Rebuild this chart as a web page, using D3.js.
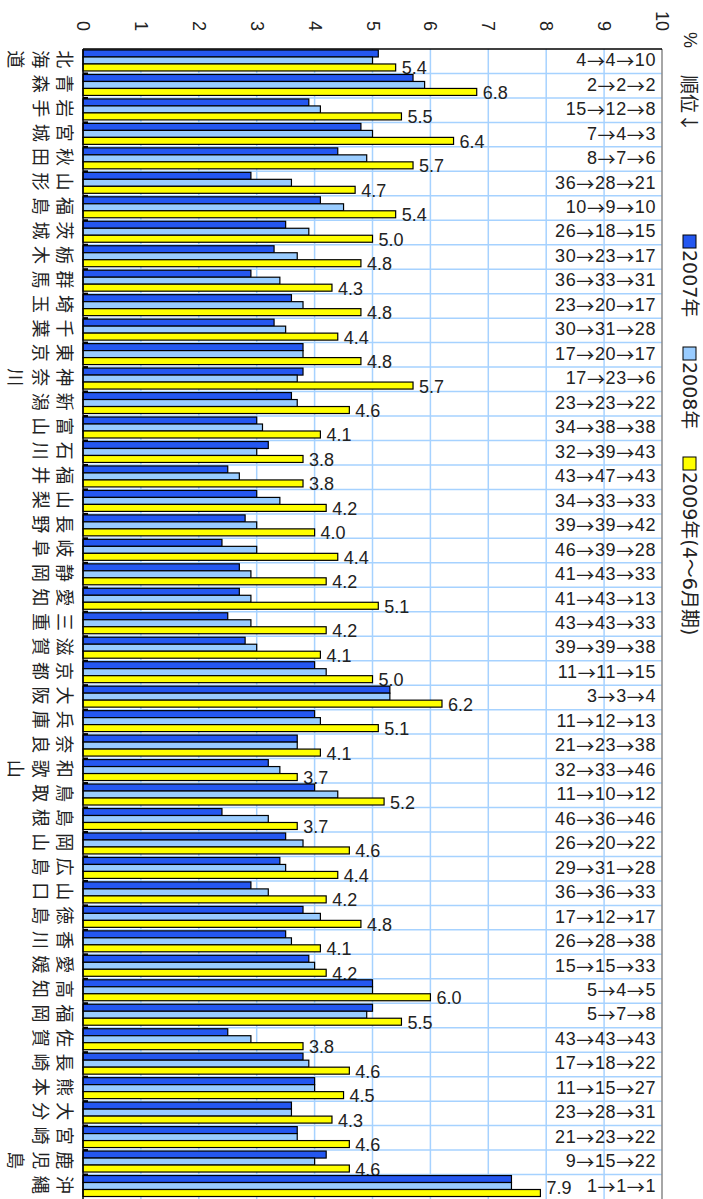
<!DOCTYPE html>
<html><head><meta charset="utf-8">
<script src="https://cdn.jsdelivr.net/npm/d3@7"></script>
<style>body{margin:0;background:#fff}svg{display:block}</style>
</head><body>
<svg id="c" width="703" height="1199"></svg>
<script>
const prefs = ["北海道","青森","岩手","宮城","秋田","山形","福島","茨城","栃木","群馬","埼玉","千葉","東京","神奈川","新潟","富山","石川","福井","山梨","長野","岐阜","静岡","愛知","三重","滋賀","京都","大阪","兵庫","奈良","和歌山","鳥取","島根","岡山","広島","山口","徳島","香川","愛媛","高知","福岡","佐賀","長崎","熊本","大分","宮崎","鹿児島","沖縄"];
const v2007 = [5.1,5.7,3.9,4.8,4.4,2.9,4.1,3.5,3.3,2.9,3.6,3.3,3.8,3.8,3.6,3.0,3.2,2.5,3.0,2.8,2.4,2.7,2.7,2.5,2.8,4.0,5.3,4.0,3.7,3.2,4.0,2.4,3.5,3.4,2.9,3.8,3.5,3.9,5.0,5.0,2.5,3.8,4.0,3.6,3.7,4.2,7.4];
const v2008 = [5.0,5.9,4.1,5.0,4.9,3.6,4.5,3.9,3.7,3.4,3.8,3.5,3.8,3.7,3.7,3.1,3.0,2.7,3.4,3.0,3.0,2.9,2.9,2.9,3.0,4.2,5.3,4.1,3.7,3.4,4.4,3.2,3.8,3.5,3.2,4.1,3.6,4.0,5.0,4.9,2.9,3.9,4.0,3.6,3.7,4.0,7.4];
const v2009 = [5.4,6.8,5.5,6.4,5.7,4.7,5.4,5.0,4.8,4.3,4.8,4.4,4.8,5.7,4.6,4.1,3.8,3.8,4.2,4.0,4.4,4.2,5.1,4.2,4.1,5.0,6.2,5.1,4.1,3.7,5.2,3.7,4.6,4.4,4.2,4.8,4.1,4.2,6.0,5.5,3.8,4.6,4.5,4.3,4.6,4.6,7.9];
const rank2007 = [4,2,15,7,8,36,10,26,30,36,23,30,17,17,23,34,32,43,34,39,46,41,41,43,39,11,3,11,21,32,11,46,26,29,36,17,26,15,5,5,43,17,11,23,21,9,1];
const rank2008 = [4,2,12,4,7,28,9,18,23,33,20,31,20,23,23,38,39,47,33,39,39,43,43,43,39,11,3,12,23,33,10,36,20,31,36,12,28,15,4,7,43,18,15,28,23,15,1];
const rank2009 = [10,2,8,3,6,21,10,15,17,31,17,28,17,6,22,38,43,43,33,42,28,33,13,33,38,15,4,13,38,46,12,46,22,28,33,17,38,33,5,8,43,22,27,31,22,22,1];
const seriesNames = ["2007年","2008年","2009年(4〜6月期)"];
const seriesColors = ["#2457f0","#99ccff","#ffff00"];
const ticks = [0,1,2,3,4,5,6,7,8,9,10];

(function(){
const svg = d3.select("#c");
const pL = 83, pR = 662, pT = 49, pB = 1199;
const x = d3.scaleLinear().domain([0,10]).range([pL,pR]);
const y = d3.scaleBand().domain(prefs).range([pT,pB]).padding(0);
const bw = y.bandwidth();
const inner = d3.scaleBand().domain([0,1,2]).range([1, bw-2.5]).padding(0);

const data = prefs.map((p,i)=>({p, vals:[v2007[i],v2008[i],v2009[i]], r:[rank2007[i],rank2008[i],rank2009[i]]}));

const grid = svg.append("g");
grid.selectAll("line.v").data(ticks.slice(1,10)).join("line")
  .attr("x1",d=>x(d)).attr("x2",d=>x(d)).attr("y1",pT).attr("y2",pB)
  .attr("stroke","#a6d2ff").attr("stroke-width",1.5);
grid.selectAll("line.h").data(prefs.slice(1)).join("line")
  .attr("x1",pL).attr("x2",pR).attr("y1",d=>y(d)).attr("y2",d=>y(d))
  .attr("stroke","#a6d2ff").attr("stroke-width",1.5);

const g = svg.append("g").selectAll("g").data(data).join("g")
  .attr("transform",d=>`translate(0,${y(d.p)})`);
g.selectAll("rect").data(d=>d.vals.map((v,k)=>({v,k}))).join("rect")
  .attr("x",x(0)).attr("y",d=>inner(d.k)).attr("width",d=>x(d.v)-x(0)).attr("height",inner.bandwidth())
  .attr("fill",d=>seriesColors[d.k]).attr("stroke","#000").attr("stroke-width",1.2);

// value labels (kept inside the picture at the bottom edge)
g.append("text").attr("x",d=>x(d.vals[2])+6)
  .attr("y",d=>Math.min(inner(2)+inner.bandwidth()/2+1, pB-11-y(d.p)))
  .attr("dominant-baseline","central")
  .attr("font-family","Liberation Sans, Arial, sans-serif").attr("font-size",18).attr("fill","#222")
  .text(d=>d.vals[2].toFixed(1));

// rank labels
const rt = g.append("text").attr("x",656).attr("y",bw/2-1)
  .attr("dominant-baseline","central").attr("text-anchor","end")
  .attr("font-family","Liberation Sans, Arial, sans-serif").attr("font-size",18).attr("fill","#222")
  .attr("letter-spacing",0.6);
rt.each(function(d){
  const t = d3.select(this);
  d.r.forEach((v,k)=>{
    if(k>0) t.append("tspan").attr("font-family","Noto Sans CJK JP").attr("font-size",18).text("→");
    t.append("tspan").text(v);
  });
});

svg.append("line").attr("x1",pR).attr("x2",pR).attr("y1",pT).attr("y2",pB).attr("stroke","#888").attr("stroke-width",1.5);
svg.append("line").attr("x1",pL).attr("x2",pR).attr("y1",pT).attr("y2",pT).attr("stroke","#000").attr("stroke-width",1.5);
svg.append("line").attr("x1",pL).attr("x2",pL).attr("y1",pT).attr("y2",pB).attr("stroke","#000").attr("stroke-width",1.5);
svg.append("g").selectAll("line").data(prefs.slice(1)).join("line")
  .attr("x1",pL).attr("x2",pL+5).attr("y1",d=>y(d)).attr("y2",d=>y(d))
  .attr("stroke","#000").attr("stroke-width",2);

svg.append("g").selectAll("text").data(ticks).join("text")
  .attr("transform",d=>`translate(${x(d)},31) rotate(90)`)
  .attr("text-anchor","end").attr("dominant-baseline","central")
  .attr("font-family","Liberation Sans, Arial, sans-serif").attr("font-size",18).attr("fill","#222")
  .text(d=>d);

const pl = svg.append("g").selectAll("g").data(prefs).join("g")
  .attr("transform",d=>`translate(0,${y(d)+bw/2-2})`);
pl.selectAll("text").data(d=>Array.from(d)).join("text")
  .attr("transform",(c,i)=>`translate(${66-i*24.5},0) rotate(90)`)
  .attr("text-anchor","middle").attr("dominant-baseline","central")
  .attr("font-family","Noto Sans CJK JP").attr("font-size",18).attr("fill","#222")
  .text(c=>c);

svg.append("text").attr("transform","translate(690,40) rotate(90)")
  .attr("text-anchor","middle").attr("dominant-baseline","central")
  .attr("font-family","Liberation Sans, Arial, sans-serif").attr("font-size",18).attr("fill","#222").text("%");
svg.append("text").attr("transform","translate(690,75) rotate(90)")
  .attr("text-anchor","start").attr("dominant-baseline","central")
  .attr("font-family","Noto Sans CJK JP").attr("font-size",19).attr("fill","#222").text("順位↓");

const legY = [235,347,457];
const lg = svg.append("g").selectAll("g").data(seriesNames).join("g");
lg.append("rect").attr("x",683).attr("y",(d,i)=>legY[i]).attr("width",13).attr("height",13)
  .attr("fill",(d,i)=>seriesColors[i]).attr("stroke","#000").attr("stroke-width",1);
lg.append("text").attr("transform",(d,i)=>`translate(690,${legY[i]+15}) rotate(90)`)
  .attr("text-anchor","start").attr("dominant-baseline","central")
  .attr("font-family","DejaVu Sans, Noto Sans CJK JP").attr("font-size",19).attr("fill","#222")
  .text(d=>d);
})();
</script>
</body></html>
